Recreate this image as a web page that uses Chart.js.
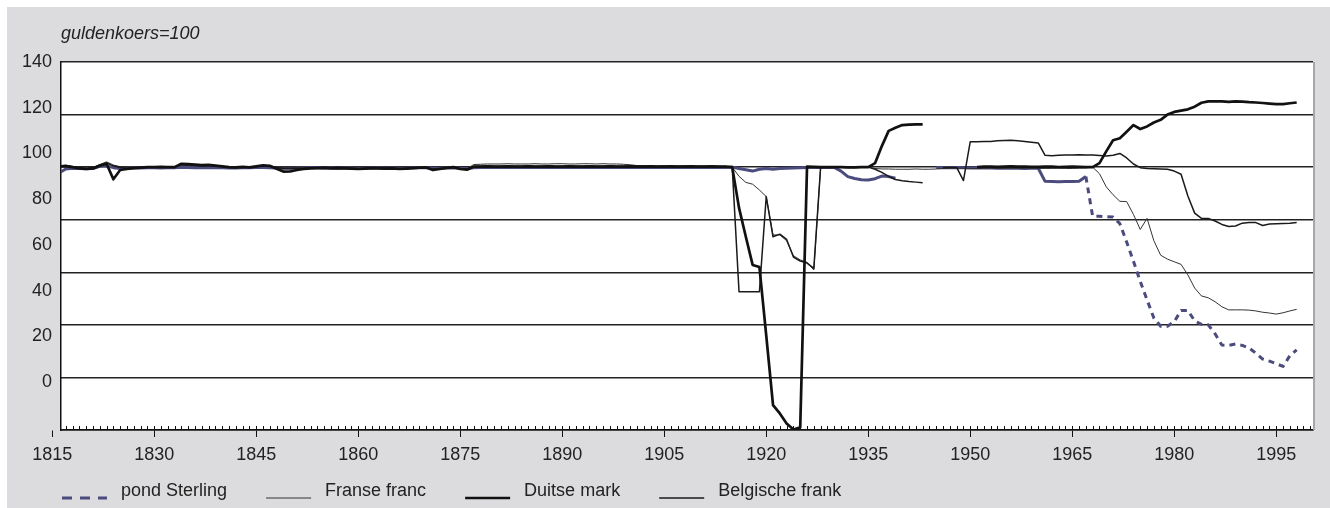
<!DOCTYPE html>
<html>
<head>
<meta charset="utf-8">
<script src="https://cdn.jsdelivr.net/npm/chart.js@4.4.1/dist/chart.umd.min.js"></script>
<style>
  html, body { margin: 0; padding: 0; background: #fff; }
  #wrap { width: 1330px; height: 508px; }
</style>
</head>
<body>
<div id="wrap"><canvas id="koersen"></canvas></div>
<script>
// jaarreeksen, eerste waarde = 1816, laatste = 1998 (guldenkoers = 100)
const firstYear = 1816;

const pondSterling = [
  97.8, 99.3, 99.6, 99.5,
  99.4, 99.5, 100.3, 100.5, 99.8, 99.5, 99.6, 99.7, 99.7, 99.8,   // 1820
  99.8, 99.7, 99.8, 99.8, 100.0, 99.9, 99.8, 99.8, 99.9, 99.8,    // 1830
  99.8, 99.7, 99.7, 99.8, 99.8, 99.9, 99.9, 99.8, 99.7, 99.6,     // 1840
  99.6, 99.7, 99.7, 99.8, 99.8, 99.7, 99.7, 99.6, 99.7, 99.7,     // 1850
  99.6, 99.6, 99.7, 99.7, 99.6, 99.7, 99.6, 99.6, 99.7, 99.8,     // 1860
  99.8, 99.6, 99.6, 99.7, 99.8, 99.6, 99.5, 99.8, 99.9, 99.9,     // 1870
  99.9, 99.9, 99.9, 99.9, 99.9, 99.9, 99.9, 99.9, 99.9, 99.9,     // 1880
  99.9, 99.9, 99.9, 99.9, 99.9, 99.9, 99.9, 99.9, 99.9, 99.9,     // 1890
  99.9, 99.9, 99.9, 99.9, 99.9, 99.9, 99.9, 99.9, 99.9, 99.9,     // 1900
  99.9, 99.9, 99.9, 99.9, 99.9, 100.0, 99.5, 99.0, 98.5, 99.2,    // 1910
  99.5, 99.2, 99.5, 99.6, 99.7, 99.8, 99.9, 99.9, 99.9, 99.9,     // 1920
  99.9, 98.5, 96.4, 95.7, 95.2, 95.1, 95.6, 96.6, 96.4, 95.8,     // 1930
  null, null, null, null, null, 99.9, 99.8, 99.8, 99.9, 99.8,     // 1940
  99.7, 99.8, 99.7, 99.7, 99.6, 99.6, 99.7, 99.6, 99.5, 99.6,     // 1950
  99.6, 94.6, 94.5, 94.4, 94.5, 94.5, 94.6, 96.4, 81.3, 81.3,     // 1960
  81.2, 81.0, 78.5, 71.5, 64.2, 56.5, 49.5, 42.6, 39.5, 39.5,     // 1970
  41.2, 45.5, 45.5, 41.5, 40.2, 40.0, 36.6, 32.3, 32.2, 32.7,     // 1980
  32.2, 31.2, 29.2, 27.0, 26.2, 25.2, 24.2, 28.3, 30.5            // 1990
];

const franseFranc = [
  100.5, 100.8, 100.3, 99.8,
  99.6, 99.9, 101.0, 102.0, 100.8, 100.2, 99.7, 99.8, 99.9, 100.0,
  100.1, 100.0, 100.1, 100.2, 100.8, 100.6, 100.5, 100.4, 100.5, 100.4,
  100.2, 100.0, 99.9, 100.0, 100.1, 100.2, 100.4, 100.3, 100.0, 99.8,
  99.8, 99.8, 99.7, 99.8, 99.8, 99.7, 99.8, 99.7, 99.8, 99.7,
  99.6, 99.7, 99.7, 99.8, 99.7, 99.8, 99.6, 99.7, 99.8, 99.9,
  99.7, 99.5, 99.6, 99.8, 99.9, 99.5, 99.4, 101.0, 101.1, 101.2,
  101.2, 101.2, 101.3, 101.2, 101.2, 101.2, 101.3, 101.2, 101.2, 101.3,
  101.3, 101.2, 101.2, 101.3, 101.3, 101.2, 101.3, 101.2, 101.2, 101.1,
  100.9, 100.6, 100.5, 100.5, 100.4, 100.5, 100.4, 100.4, 100.5, 100.4,
  100.4, 100.4, 100.3, 100.3, 100.2, 100.0, 96.5, 94.2, 93.5, 91.3,
  88.8, 74.2, 74.2, 72.0, 66.3, 64.7, 63.8, 60.9, 100.0, 100.0,
  100.0, 100.0, 99.9, 99.9, 100.0, 100.0, 99.5, 99.3, 99.3, 99.2,
  99.2, 99.2, 99.3, 99.2, 99.2, 99.3, 99.5, 99.6, 99.6, 99.6,
  99.5, 99.5, 99.5, 99.6, 99.5, 99.5, 99.6, 99.5, 99.5, 99.6,
  99.5, 99.5, 99.5, 99.6, 99.5, 99.5, 99.6, 99.7, 100.0, 97.5,
  92.5, 89.5, 87.0, 86.9, 82.0, 76.3, 80.5, 72.0, 66.5, 65.0,
  64.0, 63.0, 59.0, 54.0, 51.0, 50.3, 48.8, 46.9, 45.7, 45.7,
  45.7, 45.6, 45.3, 44.8, 44.5, 44.1, 44.6, 45.3, 45.9
];

const duitseMark = [
  100.2, 100.4, 100.0, 99.5,
  99.3, 99.5, 100.5, 101.3, 95.4, 98.9, 99.3, 99.6, 99.8, 100.0,
  100.0, 100.1, 100.0, 100.0, 101.3, 101.2, 101.0, 100.8, 100.9, 100.6,
  100.3, 100.0, 99.9, 100.1, 99.9, 100.3, 100.7, 100.5, 99.4, 98.3,
  98.4, 98.9, 99.3, 99.5, 99.6, 99.7, 99.5, 99.6, 99.5, 99.4,
  99.3, 99.4, 99.6, 99.5, 99.4, 99.5, 99.3, 99.4, 99.6, 99.8,
  99.9, 98.9, 99.3, 99.7, 100.0, 99.3, 99.0, 100.2, 100.2, 100.3,
  100.2, 100.2, 100.3, 100.2, 100.2, 100.3, 100.2, 100.2, 100.3, 100.2,
  100.2, 100.3, 100.2, 100.2, 100.3, 100.2, 100.2, 100.3, 100.2, 100.2,
  100.3, 100.2, 100.2, 100.3, 100.2, 100.2, 100.3, 100.2, 100.2, 100.3,
  100.2, 100.2, 100.3, 100.2, 100.2, 100.0, 84.5, 73.5, 62.8, 62.0,
  36.0, 9.5, 6.3, 2.5, 0.2, 1.0, 100.2, 100.1, 100.0, 100.0,
  100.0, 100.0, 99.9, 99.9, 100.0, 100.0, 101.5, 108.0, 113.8, 115.0,
  116.0, 116.2, 116.3, 116.3, null, null, null, null, null, null,
  null, 100.0, 100.2, 100.2, 100.1, 100.2, 100.3, 100.2, 100.2, 100.1,
  100.1, 100.2, 100.2, 100.0, 100.1, 100.2, 100.1, 100.0, 100.0, 101.5,
  106.0, 110.2, 111.0, 113.5, 116.0, 114.5, 115.5, 117.0, 118.0, 120.0,
  121.0, 121.5, 122.0, 123.0, 124.5, 125.0, 125.0, 125.0, 124.8, 125.0,
  124.9, 124.7, 124.6, 124.4, 124.2, 124.0, 124.0, 124.3, 124.6
];

const belgischeFrank = [
  100.3, 100.5, 100.1, 99.7,
  99.5, 99.7, 100.8, 101.6, 100.5, 99.9, 99.6, 99.7, 99.8, 100.0,
  100.0, 100.0, 100.0, 100.1, 100.9, 100.8, 100.7, 100.5, 100.6, 100.4,
  100.2, 99.9, 99.8, 100.0, 100.0, 100.2, 100.5, 100.4, 99.9, 99.5,
  99.5, 99.6, 99.6, 99.7, 99.7, 99.6, 99.6, 99.6, 99.6, 99.5,
  99.4, 99.5, 99.6, 99.6, 99.5, 99.6, 99.4, 99.5, 99.7, 99.8,
  99.8, 99.2, 99.4, 99.7, 99.9, 99.4, 99.2, 100.3, 100.3, 100.4,
  100.3, 100.3, 100.4, 100.3, 100.3, 100.4, 100.3, 100.3, 100.4, 100.3,
  100.3, 100.4, 100.3, 100.3, 100.4, 100.3, 100.3, 100.4, 100.3, 100.3,
  100.3, 100.3, 100.3, 100.2, 100.2, 100.3, 100.2, 100.2, 100.3, 100.2,
  100.2, 100.2, 100.2, 100.2, 100.2, 100.0, 52.6, 52.6, 52.6, 52.6,
  88.8, 73.5, 74.5, 72.5, 65.8, 64.3, 63.5, 61.5, 100.0, 100.0,
  100.0, 100.0, 99.9, 99.9, 100.0, 100.0, 99.2, 98.0, 96.5, 95.3,
  94.8, 94.5, 94.3, 94.1, null, null, 99.8, 99.9, 99.9, 94.9,
  109.7, 109.7, 109.8, 109.8, 110.0, 110.1, 110.2, 110.0, 109.8, 109.5,
  109.2, 104.5, 104.3, 104.5, 104.6, 104.6, 104.7, 104.6, 104.6, 104.4,
  104.2, 104.5, 105.2, 103.5, 101.2, 99.8, 99.5, 99.4, 99.3, 99.2,
  98.5, 97.3, 89.0, 82.5, 80.5, 80.5, 79.5, 78.2, 77.4, 77.6,
  78.7, 78.9, 78.9, 77.8, 78.4, 78.5, 78.6, 78.7, 78.9
];

const xTickYears = [1815, 1830, 1845, 1860, 1875, 1890, 1905, 1920, 1935, 1950, 1965, 1980, 1995];
const yTickValues = [0, 20, 40, 60, 80, 100, 120, 140];

const seriesNames = ['pond Sterling', 'Franse franc', 'Duitse mark', 'Belgische frank'];

const FONT = '"Liberation Sans", Arial, sans-serif';
const PURPLE = '#4b4b7e';

Chart.defaults.font.family = FONT;
Chart.defaults.font.size = 18;
Chart.defaults.color = '#222';

function toPoints(values) {
  return values.map((v, i) => ({ x: firstYear + i, y: v }));
}

// legendasymbool: lijntje iets onder het midden van de tekst, zoals in het origineel
function makeSample(color, width, dash) {
  const c = document.createElement('canvas');
  c.width = 88;
  c.height = 24;
  const g = c.getContext('2d');
  g.strokeStyle = color;
  g.lineWidth = width;
  g.setLineDash(dash);
  g.beginPath();
  g.moveTo(38, 19);
  g.lineTo(83, 19);
  g.stroke();
  return c;
}

const samples = [
  makeSample(PURPLE, 3, [10, 8]),
  makeSample('#333', 1, []),
  makeSample('#111', 2.6, []),
  makeSample('#1a1a1a', 1.5, [])
];

// grijze achtergrond, wit plotvlak, rechterrand en jaarstreepjes
const paperPlugin = {
  id: 'paper',
  beforeDraw(chart) {
    const { ctx, width, height, chartArea: a } = chart;
    ctx.save();
    ctx.fillStyle = '#fff';
    ctx.fillRect(0, 0, width, height);
    ctx.fillStyle = '#dcdcde';
    ctx.fillRect(7, 7, width - 7, height - 7);
    ctx.fillStyle = '#fff';
    ctx.fillRect(a.left, a.top, a.right - a.left, a.bottom - a.top);
    ctx.restore();
  },
  afterDraw(chart) {
    const { ctx, chartArea: a } = chart;
    const x = chart.scales.x;
    ctx.save();
    ctx.strokeStyle = '#a6a6a6';
    ctx.lineWidth = 2;
    ctx.beginPath();
    ctx.moveTo(a.right + 1, a.top);
    ctx.lineTo(a.right + 1, a.bottom);
    ctx.stroke();

    ctx.strokeStyle = '#111';
    ctx.lineWidth = 1;
    ctx.beginPath();
    for (let yr = Math.ceil(x.min); yr <= x.max; yr++) {
      const px = Math.round(x.getPixelForValue(yr)) + 0.5;
      ctx.moveTo(px, a.bottom);
      ctx.lineTo(px, a.bottom - 4);
    }
    ctx.stroke();
    ctx.restore();
  }
};

new Chart(document.getElementById('koersen'), {
  type: 'line',
  data: {
    datasets: [
      {
        label: seriesNames[0],
        data: toPoints(pondSterling),
        borderColor: PURPLE,
        borderWidth: 3,
        segment: {
          borderDash: ctx => (ctx.p0.parsed.x >= 1967 ? [6, 5] : undefined)
        },
        order: 4
      },
      {
        label: seriesNames[1],
        data: toPoints(franseFranc),
        borderColor: '#333',
        borderWidth: 1,
        order: 3
      },
      {
        label: seriesNames[2],
        data: toPoints(duitseMark),
        borderColor: '#111',
        borderWidth: 2.7,
        order: 1
      },
      {
        label: seriesNames[3],
        data: toPoints(belgischeFrank),
        borderColor: '#1a1a1a',
        borderWidth: 1.5,
        order: 2
      }
    ]
  },
  options: {
    responsive: true,
    maintainAspectRatio: false,
    animation: false,
    events: [],
    spanGaps: false,
    elements: {
      point: { radius: 0 },
      line: { tension: 0, borderCapStyle: 'butt', borderJoinStyle: 'round' }
    },
    layout: { padding: { left: 23, right: 17, top: 0, bottom: -2 } },
    scales: {
      x: {
        type: 'linear',
        bounds: 'data',
        min: 1816.3,
        max: 2000.4,
        afterBuildTicks: scale => { scale.ticks = xTickYears.map(v => ({ value: v })); },
        afterFit: scale => { scale.height = 51; },
        ticks: {
          autoSkip: false,
          maxRotation: 0,
          padding: 7,
          color: '#222',
          callback: v => String(v)
        },
        grid: { display: true, drawOnChartArea: false, drawTicks: true, tickLength: 7, color: '#111', lineWidth: 1 },
        border: { display: true, color: '#111', width: 1.5 }
      },
      y: {
        position: 'left',
        min: 0,
        max: 140,
        ticks: { display: false, stepSize: 20 },
        afterFit: scale => { scale.width = 0; },
        grid: { color: '#222', lineWidth: 1.4, drawTicks: false },
        border: { display: false }
      },
      yLab: {
        position: 'left',
        bounds: 'data',
        min: -21,
        max: 140,
        afterBuildTicks: scale => { scale.ticks = yTickValues.map(v => ({ value: v })); },
        afterFit: scale => { scale.width = 38; },
        ticks: { padding: 9, color: '#222' },
        grid: { display: false, drawTicks: false },
        border: { display: true, color: '#111', width: 1.5 }
      }
    },
    plugins: {
      tooltip: { enabled: false },
      title: {
        display: true,
        text: 'guldenkoers=100',
        align: 'start',
        fullSize: false,
        color: '#222',
        font: { size: 18, style: 'italic', weight: 'normal', lineHeight: 1.2 },
        padding: { top: 23, bottom: 17.4 }
      },
      legend: {
        position: 'bottom',
        align: 'start',
        labels: {
          usePointStyle: true,
          pointStyleWidth: 88,
          padding: 1,
          color: '#222',
          font: { size: 18 },
          generateLabels: chart => chart.data.datasets.map((ds, i) => ({
            text: ds.label,
            datasetIndex: i,
            pointStyle: samples[i],
            fillStyle: 'rgba(0,0,0,0)',
            strokeStyle: 'rgba(0,0,0,0)',
            lineWidth: 0,
            hidden: false,
            fontColor: '#222'
          }))
        }
      }
    }
  },
  plugins: [paperPlugin]
});
</script>
</body>
</html>
